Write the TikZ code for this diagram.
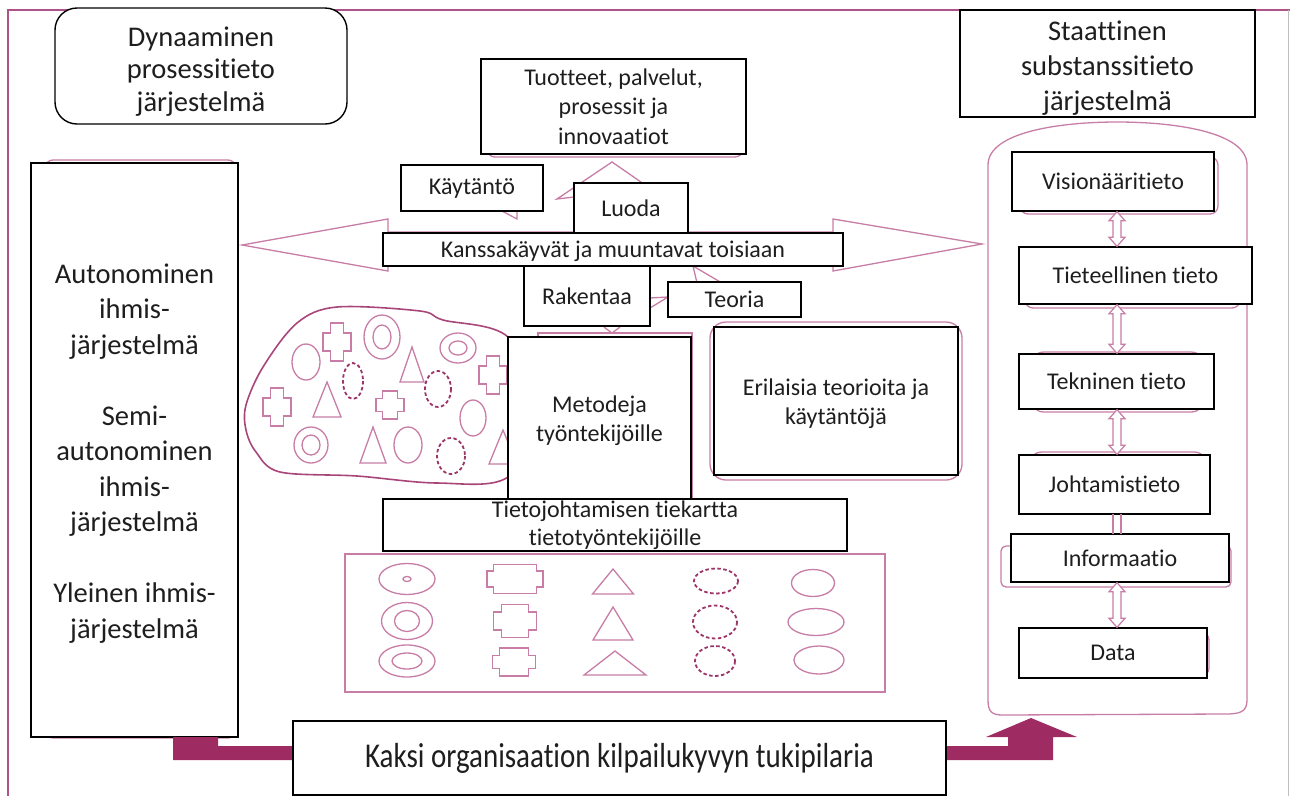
\documentclass[tikz,border=0pt]{standalone}
\usepackage{fontspec}
\setmainfont{Carlito}[Ligatures=NoCommon]
\usetikzlibrary{arrows.meta}

\definecolor{pinkln}{HTML}{C77DA5}
\definecolor{blobln}{HTML}{A8467A}
\definecolor{dashln}{HTML}{9C3468}
\definecolor{framecol}{HTML}{B0528A}
\definecolor{arrowcol}{HTML}{9E2C62}
\definecolor{inkcol}{HTML}{1E1E1E}

\newcommand{\fsm}{\fontsize{24}{29.3}\selectfont}
\newcommand{\fbg}{\fontsize{28.5}{35.5}\selectfont}

% notched "pixel" cross: centre x, centre y, width, height, inner half-widths
\newcommand{\pxcross}[6]{%
  \draw[shp, shift={(#1,#2)}, x=#3pt, y=#4pt]
    (-#5,-.5) -- (#5,-.5) -- (#5,-#6) -- (.5,-#6) -- (.5,#6) -- (#5,#6) --
    (#5,.5) -- (-#5,.5) -- (-#5,#6) -- (-.5,#6) -- (-.5,-#6) -- (-#5,-#6) -- cycle;}
% triangle: apex x, apex y, half base, height
\newcommand{\tri}[4]{\draw[shp] (#1,#2) -- ++(-#3,#4) -- ++(2*#3,0) -- cycle;}
% plain, dashed and double ellipses
\newcommand{\ovl}[4]{\draw[shp] (#1,#2) ellipse [x radius=#3, y radius=#4];}
\newcommand{\dovl}[4]{\draw[dshp] (#1,#2) ellipse [x radius=#3, y radius=#4];}
\newcommand{\ring}[6]{\draw[shp] (#1,#2) ellipse [x radius=#3, y radius=#4]
  (#1,#2) ellipse [x radius=#5, y radius=#6];}
% hollow two-headed arrow from the bottom of node #1 to the top of node #2
\newcommand{\updown}[2]{%
  \path (#1.south -| ax) coordinate (p1) (#2.north -| ax) coordinate (p2);
  \draw[shp, line width=1.2pt, fill=white] (p1) -- ([shift={(8,9)}]p1) -- ([shift={(4,9)}]p1)
    -- ([shift={(4,-9)}]p2) -- ([shift={(8,-9)}]p2) -- (p2) -- ([shift={(-8,-9)}]p2)
    -- ([shift={(-4,-9)}]p2) -- ([shift={(-4,9)}]p1) -- ([shift={(-8,9)}]p1) -- cycle;}

\tikzset{
  box/.style={draw=black, line width=1.4pt, fill=white, inner sep=0pt,
    align=center, font=\fsm, text=inkcol},
  txt/.style={inner sep=0pt, align=center, text=inkcol},
  shp/.style={draw=pinkln, line width=1.3pt},
  dshp/.style={draw=dashln, line width=1.8pt, dash pattern=on 3.5pt off 2.5pt},
  shade/.style={draw=pinkln, line width=1.3pt, rounded corners=8pt},
}

\begin{document}
\begin{tikzpicture}[x=1pt, y=-1pt]
\useasboundingbox (0,0) rectangle (1290,796);

% page frame
\draw[framecol, line width=2.5pt] (8,796) -- (8,10) -- (1290,10);
\draw[black!25, line width=1pt] (1288.5,10) -- (1288.5,796);

% ---- pink background shapes ----
% wide double-pointed arrow behind the interaction label
\draw[shp, fill=white] (242,245) -- (388,219) -- (388,232) -- (833,232) -- (833,219)
  -- (982,244) -- (833,271) -- (833,258) -- (388,258) -- (388,271) -- cycle;
% arrow pieces around the centre boxes
\draw[shp] (574,197) -- (557,199) -- (612,162) -- (667,200);
\draw[shp] (502,211) -- (517,219) -- (517,211);
\draw[shp] (650,298) -- (668,297) (650,308) -- (668,297);
\draw[shp] (693,266) -- (697,283) (693,266) -- (722,283);
\draw[shp] (604,327) -- (612,333) -- (620,327);
\draw[shp] (538,500) -- (538,333) -- (692,333) -- (692,500);
% outlines behind boxes
\draw[shade] (487,63) rectangle (743,157);
\draw[shade] (45,160) rectangle (236,738);
\draw[shade, rounded corners=16pt] (710,322) rectangle (962,480);

% container of the knowledge levels
\draw[shp] (988,700) -- (988,165) .. controls (988,132) and (1060,122) .. (1117,122)
  .. controls (1175,122) and (1247,132) .. (1247,165) -- (1247,700)
  .. controls (1247,712) and (1240,714) .. (1225,714) -- (1003,715)
  .. controls (992,715) and (988,712) .. (988,700);
\draw[shade] (1020,157) rectangle (1218,214);
\draw[shade] (1025,250) rectangle (1240,308);
\draw[shade, rounded corners=14pt] (1030,352) rectangle (1205,412);
\draw[shade, rounded corners=14pt] (1028,452) rectangle (1208,512);
\draw[shade, rounded corners=5pt] (1001,546) rectangle (1231,587);
\draw[shade] (1022,632) rectangle (1209,676);

% blob of mixed shapes
\draw[blobln, line width=1.6pt] plot[smooth cycle, tension=0.55] coordinates {
  (508,337) (443,320) (420,311) (337,307) (297,323) (263,367) (246,405)
  (246,430) (256,452) (280,472) (357,476) (437,483) (508,477) (540,410)};
\ovl{306}{362}{14}{18}
\pxcross{337}{342}{28}{38}{.24}{.24}
\ring{382}{337}{18}{22}{9}{12}
\tri{412}{347}{12}{35}
\ring{458}{348}{18}{15}{9}{7}
\pxcross{493}{375}{28}{38}{.24}{.24}
\dovl{353}{381}{10}{18}
\dovl{438}{389}{13}{18}
\pxcross{277}{407}{28}{38}{.24}{.24}
\tri{327}{382}{14}{35}
\pxcross{390}{405}{28}{28}{.26}{.24}
\ovl{473}{418}{13}{18}
\ring{311}{445}{17}{18}{9}{10}
\tri{373}{427}{13}{36}
\ovl{408}{445}{14}{18}
\dovl{451}{456}{14}{18}
\tri{503}{430}{14}{34}

% sorted shapes
\draw[shp] (345,554) rectangle (885,692);
\ring{407}{579}{28}{15.5}{4}{2.5}
\ring{407}{621}{25.5}{18.5}{12.5}{10.5}
\ring{407}{661}{28}{16}{15}{8}
\pxcross{515}{579}{56}{29}{.385}{.28}
\pxcross{515}{621}{43}{33}{.32}{.27}
\pxcross{514}{662}{43}{28}{.33}{.24}
\tri{613}{569}{20.5}{25}
\tri{613}{607}{20}{33}
\tri{615}{651}{31}{24}
\dovl{716}{581}{22}{12.5}
\dovl{715}{622}{22}{16.5}
\dovl{715}{661}{20}{15}
\ovl{813}{583}{21.5}{13.5}
\ovl{816}{622}{28}{13.5}
\ovl{819}{660}{25}{14}

% ---- title boxes and the human-system column ----
\node[box, rounded corners=22pt, minimum width=292, minimum height=116] (dyn) at (201,66) {};
\node[txt, font=\fontsize{28.5}{32.5}\selectfont] (dyn-t) at (201,71.5)
  {Dynaaminen\\prosessitieto\\järjestelmä};
\node[box, minimum width=295, minimum height=107] (sta) at (1107.5,63.5) {};
\node[txt, font=\fontsize{28.5}{35}\selectfont] (sta-t) at (1107.5,68.5)
  {Staattinen\\substanssitieto\\järjestelmä};
\node[box, minimum width=207, minimum height=574] (ihm) at (134.5,450) {};
\node[txt, font=\fbg] (ihm-t) at (134.5,453.5)
  {Autonominen\\ihmis-\\järjestelmä\\[35.5pt]Semi-\\autonominen\\ihmis-\\järjestelmä\\[35.5pt]Yleinen ihmis-\\järjestelmä};

% ---- centre boxes ----
\node[box, minimum width=265, minimum height=95] (tuo) at (613.5,106.5)
  {Tuotteet, palvelut,\\prosessit ja\\innovaatiot};
\node[box, minimum width=142, minimum height=46] (kay) at (472,188) {Käytäntö};
\node[box, minimum width=114, minimum height=50] (luo) at (631,208) {Luoda};
\node[box, minimum width=460, minimum height=33] (kan) at (613,249.5) {};
\node[txt, font=\fsm] (kan-t) at (613,251.5) {Kanssakäyvät ja muuntavat toisiaan};
\node[box, minimum width=126, minimum height=60] (rak) at (587,296) {Rakentaa};
\node[box, minimum width=133, minimum height=35] (teo) at (734.5,299.5) {Teoria};
\node[box, minimum width=183, minimum height=162] (met) at (599.5,418) {};
\node[txt, font=\fsm] (met-t) at (599.5,420.5) {Metodeja\\työntekijöille};
\node[box, minimum width=244, minimum height=148] (eri) at (836,401) {};
\node[txt, font=\fsm] (eri-t) at (836,403.5) {Erilaisia teorioita ja\\käytäntöjä};
\node[box, minimum width=464, minimum height=52] (tjk) at (615,525)
  {Tietojohtamisen tiekartta\\[-1.3pt]tietotyöntekijöille};

% ---- knowledge levels ----
\node[box, minimum width=202, minimum height=59] (vis) at (1113,181.5) {Visionääritieto};
\node[box, minimum width=233, minimum height=57] (tie) at (1135.5,275.5) {Tieteellinen tieto};
\node[box, minimum width=195, minimum height=55] (tek) at (1116.5,381.5) {Tekninen tieto};
\node[box, minimum width=191, minimum height=59] (joh) at (1114.5,484.5) {Johtamistieto};
\node[box, minimum width=218, minimum height=48] (inf) at (1120,558) {Informaatio};
\node[box, minimum width=188, minimum height=50] (dat) at (1113,653) {Data};

\coordinate (ax) at (1117,0);
\updown{vis}{tie}
\updown{tie}{tek}
\updown{tek}{joh}
\draw[shp, line width=1.2pt] ([shift={(-4,-1)}]joh.south -| ax) -- ([shift={(-4,1)}]inf.north -| ax)
  ([shift={(4,-1)}]joh.south -| ax) -- ([shift={(4,1)}]inf.north -| ax);
\updown{inf}{dat}

% ---- bottom bent arrow and the pillar label ----
\draw[draw=none, fill=arrowcol] (173,737) -- (218,737) -- (218,746) -- (1008,746)
  -- (1008,737) -- (986,737) -- (1031,718) -- (1077,737) -- (1053,737)
  -- (1053,760) -- (173,760) -- cycle;
\node[box, minimum width=653, minimum height=74, font=\fontsize{29}{35}\selectfont]
  (kak) at (619.5,758) {\scalebox{1}[1.2]{Kaksi organisaation kilpailukyvyn tukipilaria}};
\end{tikzpicture}
\end{document}
